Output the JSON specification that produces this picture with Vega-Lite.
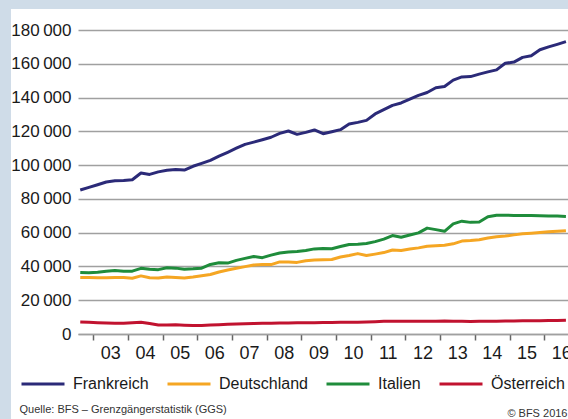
{
  "$schema": "https://vega.github.io/schema/vega-lite/v6.json",
  "width": 494,
  "height": 304,
  "autosize": {"type": "none"},
  "padding": {"left": 78, "top": 30, "right": 0, "bottom": 85},
  "background": "#ffffff",
  "config": {
    "view": {"stroke": null},
    "font": "Liberation Sans, sans-serif"
  },
  "resolve": {"axis": {"x": "independent", "y": "independent"}},
  "layer": [
    {
      "data": {
        "values": [
          {"jahr": 2002.625, "Frankreich": 85300, "Deutschland": 33500, "Italien": 36400, "Österreich": 7100},
          {"jahr": 2002.875, "Frankreich": 86800, "Deutschland": 33400, "Italien": 36200, "Österreich": 6900},
          {"jahr": 2003.125, "Frankreich": 88400, "Deutschland": 33300, "Italien": 36600, "Österreich": 6700},
          {"jahr": 2003.375, "Frankreich": 90000, "Deutschland": 33300, "Italien": 37200, "Österreich": 6500},
          {"jahr": 2003.625, "Frankreich": 90700, "Deutschland": 33500, "Italien": 37600, "Österreich": 6400},
          {"jahr": 2003.875, "Frankreich": 90900, "Deutschland": 33400, "Italien": 37200, "Österreich": 6300},
          {"jahr": 2004.125, "Frankreich": 91300, "Deutschland": 33000, "Italien": 37200, "Österreich": 6600},
          {"jahr": 2004.375, "Frankreich": 95300, "Deutschland": 34400, "Italien": 38900, "Österreich": 7000},
          {"jahr": 2004.625, "Frankreich": 94500, "Deutschland": 33300, "Italien": 38300, "Österreich": 6200},
          {"jahr": 2004.875, "Frankreich": 96000, "Deutschland": 33100, "Italien": 38100, "Österreich": 5300},
          {"jahr": 2005.125, "Frankreich": 97000, "Deutschland": 33800, "Italien": 39200, "Österreich": 5300},
          {"jahr": 2005.375, "Frankreich": 97400, "Deutschland": 33500, "Italien": 39000, "Österreich": 5500},
          {"jahr": 2005.625, "Frankreich": 97100, "Deutschland": 33100, "Italien": 38400, "Österreich": 5200},
          {"jahr": 2005.875, "Frankreich": 99300, "Deutschland": 33700, "Italien": 38600, "Österreich": 5000},
          {"jahr": 2006.125, "Frankreich": 101000, "Deutschland": 34500, "Italien": 39000, "Österreich": 5100},
          {"jahr": 2006.375, "Frankreich": 102800, "Deutschland": 35200, "Italien": 41200, "Österreich": 5300},
          {"jahr": 2006.625, "Frankreich": 105300, "Deutschland": 36700, "Italien": 42200, "Österreich": 5500},
          {"jahr": 2006.875, "Frankreich": 107600, "Deutschland": 37900, "Italien": 42000, "Österreich": 5700},
          {"jahr": 2007.125, "Frankreich": 110000, "Deutschland": 38900, "Italien": 43600, "Österreich": 5900},
          {"jahr": 2007.375, "Frankreich": 112300, "Deutschland": 39900, "Italien": 44800, "Österreich": 6000},
          {"jahr": 2007.625, "Frankreich": 113600, "Deutschland": 40800, "Italien": 45900, "Österreich": 6200},
          {"jahr": 2007.875, "Frankreich": 115000, "Deutschland": 41100, "Italien": 45200, "Österreich": 6300},
          {"jahr": 2008.125, "Frankreich": 116500, "Deutschland": 41100, "Italien": 46700, "Österreich": 6400},
          {"jahr": 2008.375, "Frankreich": 118800, "Deutschland": 42700, "Italien": 48000, "Österreich": 6500},
          {"jahr": 2008.625, "Frankreich": 120200, "Deutschland": 42600, "Italien": 48600, "Österreich": 6500},
          {"jahr": 2008.875, "Frankreich": 118200, "Deutschland": 42400, "Italien": 48900, "Österreich": 6600},
          {"jahr": 2009.125, "Frankreich": 119400, "Deutschland": 43400, "Italien": 49500, "Österreich": 6700},
          {"jahr": 2009.375, "Frankreich": 120800, "Deutschland": 43800, "Italien": 50400, "Österreich": 6700},
          {"jahr": 2009.625, "Frankreich": 118600, "Deutschland": 44000, "Italien": 50600, "Österreich": 6800},
          {"jahr": 2009.875, "Frankreich": 119800, "Deutschland": 44100, "Italien": 50500, "Österreich": 6800},
          {"jahr": 2010.125, "Frankreich": 121000, "Deutschland": 45600, "Italien": 51800, "Österreich": 6900},
          {"jahr": 2010.375, "Frankreich": 124300, "Deutschland": 46500, "Italien": 53000, "Österreich": 6900},
          {"jahr": 2010.625, "Frankreich": 125300, "Deutschland": 47600, "Italien": 53200, "Österreich": 7000},
          {"jahr": 2010.875, "Frankreich": 126500, "Deutschland": 46500, "Italien": 53600, "Österreich": 7100},
          {"jahr": 2011.125, "Frankreich": 130300, "Deutschland": 47300, "Italien": 54700, "Österreich": 7300},
          {"jahr": 2011.375, "Frankreich": 132800, "Deutschland": 48200, "Italien": 56200, "Österreich": 7500},
          {"jahr": 2011.625, "Frankreich": 135400, "Deutschland": 49700, "Italien": 58300, "Österreich": 7600},
          {"jahr": 2011.875, "Frankreich": 136800, "Deutschland": 49400, "Italien": 57300, "Österreich": 7600},
          {"jahr": 2012.125, "Frankreich": 139000, "Deutschland": 50300, "Italien": 58600, "Österreich": 7600},
          {"jahr": 2012.375, "Frankreich": 141300, "Deutschland": 51000, "Italien": 59900, "Österreich": 7600},
          {"jahr": 2012.625, "Frankreich": 143000, "Deutschland": 51900, "Italien": 62700, "Österreich": 7500},
          {"jahr": 2012.875, "Frankreich": 145800, "Deutschland": 52200, "Italien": 61800, "Österreich": 7600},
          {"jahr": 2013.125, "Frankreich": 146500, "Deutschland": 52500, "Italien": 60800, "Österreich": 7700},
          {"jahr": 2013.375, "Frankreich": 150300, "Deutschland": 53400, "Italien": 65200, "Österreich": 7600},
          {"jahr": 2013.625, "Frankreich": 152200, "Deutschland": 55000, "Italien": 66800, "Österreich": 7500},
          {"jahr": 2013.875, "Frankreich": 152400, "Deutschland": 55300, "Italien": 66100, "Österreich": 7400},
          {"jahr": 2014.125, "Frankreich": 153900, "Deutschland": 55800, "Italien": 66300, "Österreich": 7500},
          {"jahr": 2014.375, "Frankreich": 155200, "Deutschland": 56800, "Italien": 69400, "Österreich": 7600},
          {"jahr": 2014.625, "Frankreich": 156400, "Deutschland": 57600, "Italien": 70300, "Österreich": 7600},
          {"jahr": 2014.875, "Frankreich": 160300, "Deutschland": 58000, "Italien": 70300, "Österreich": 7700},
          {"jahr": 2015.125, "Frankreich": 161000, "Deutschland": 58700, "Italien": 70200, "Österreich": 7700},
          {"jahr": 2015.375, "Frankreich": 163800, "Deutschland": 59300, "Italien": 70200, "Österreich": 7800},
          {"jahr": 2015.625, "Frankreich": 164800, "Deutschland": 59700, "Italien": 70100, "Österreich": 7900},
          {"jahr": 2015.875, "Frankreich": 168300, "Deutschland": 60100, "Italien": 70000, "Österreich": 7900},
          {"jahr": 2016.125, "Frankreich": 170000, "Deutschland": 60500, "Italien": 69900, "Österreich": 8000},
          {"jahr": 2016.375, "Frankreich": 171500, "Deutschland": 60900, "Italien": 69800, "Österreich": 8000},
          {"jahr": 2016.625, "Frankreich": 173100, "Deutschland": 61200, "Italien": 69600, "Österreich": 8100}
        ]
      },
      "transform": [
        {"fold": ["Frankreich", "Deutschland", "Italien", "Österreich"], "as": ["Land", "Anzahl"]}
      ],
      "mark": {"type": "line", "strokeWidth": 3, "strokeJoin": "round"},
      "encoding": {
        "x": {
          "field": "jahr",
          "type": "quantitative",
          "scale": {"domain": [2002.56, 2016.8], "nice": false, "zero": false},
          "axis": {
            "values": [2003, 2004, 2005, 2006, 2007, 2008, 2009, 2010, 2011, 2012, 2013, 2014, 2015, 2016],
            "labelExpr": "substring(toString(datum.value), 2, 4)",
            "labelOffset": 17,
            "labelFlush": false,
            "labelOverlap": false,
            "labelFontSize": 18,
            "labelColor": "#1a1a1a",
            "labelPadding": 4,
            "tickSize": 6,
            "tickWidth": 1.5,
            "tickColor": "#666666",
            "domainColor": "#a0a0a0",
            "domainWidth": 1.5,
            "grid": false,
            "title": "© BFS 2016",
            "titleX": 489,
            "titleY": 82,
            "titleAlign": "right",
            "titleBaseline": "alphabetic",
            "titleFontSize": 11,
            "titleFontWeight": "normal",
            "titleColor": "#333333"
          }
        },
        "y": {
          "field": "Anzahl",
          "type": "quantitative",
          "scale": {"domain": [0, 180000], "nice": false},
          "axis": {
            "values": [0, 20000, 40000, 60000, 80000, 100000, 120000, 140000, 160000, 180000],
            "labelExpr": "datum.value == 0 ? '0' : floor(datum.value / 1000) + '\u2009000'",
            "grid": true,
            "gridColor": "#a0a0a0",
            "gridWidth": 1.5,
            "ticks": false,
            "domain": false,
            "labelFontSize": 17,
            "labelPadding": 7,
            "labelColor": "#1a1a1a",
            "title": "Quelle: BFS – Grenzgängerstatistik (GGS)",
            "titleAngle": 0,
            "titleX": -59,
            "titleY": 382,
            "titleAlign": "left",
            "titleBaseline": "alphabetic",
            "titleFontSize": 11,
            "titleFontWeight": "normal",
            "titleColor": "#333333"
          }
        },
        "color": {
          "field": "Land",
          "type": "nominal",
          "scale": {
            "domain": ["Frankreich", "Deutschland", "Italien", "Österreich"],
            "range": ["#2b2a78", "#f5a623", "#1f8c3b", "#c1122f"]
          },
          "legend": {
            "orient": "none",
            "legendX": -58,
            "legendY": 331,
            "direction": "horizontal",
            "columns": 4,
            "title": null,
            "symbolType": "stroke",
            "symbolSize": 1849,
            "symbolStrokeWidth": 3,
            "labelFontSize": 16,
            "labelOffset": 7,
            "columnPadding": 12,
            "labelColor": "#1a1a1a",
            "labelLimit": 0,
            "padding": 0
          }
        }
      }
    },
    {
      "data": {"values": [{}]},
      "mark": {"type": "rect", "color": "#cfdce8"},
      "encoding": {
        "x": {"datum": 1990, "type": "quantitative", "axis": null},
        "x2": {"datum": 2000.628},
        "y": {"datum": -300000, "type": "quantitative", "axis": null},
        "y2": {"datum": 400000}
      }
    },
    {
      "data": {"values": [{}]},
      "mark": {"type": "rect", "color": "#cfdce8"},
      "encoding": {
        "x": {"datum": 1990, "type": "quantitative", "axis": null},
        "x2": {"datum": 2030},
        "y": {"datum": 192430, "type": "quantitative", "axis": null},
        "y2": {"datum": 400000}
      }
    }
  ]
}
